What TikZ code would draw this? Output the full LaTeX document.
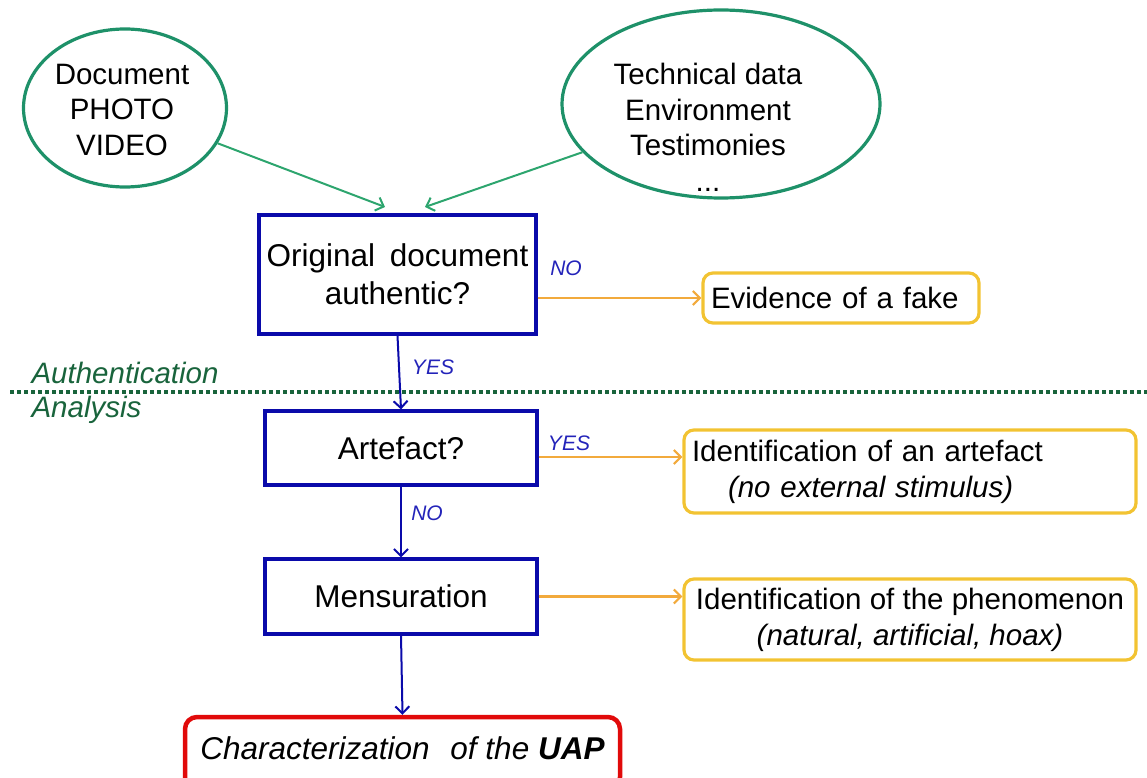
\documentclass[tikz,border=0pt]{standalone}
\usepackage{fontspec}
\setmainfont{Liberation Sans}
\usetikzlibrary{shapes.geometric,arrows.meta,calc}
\definecolor{elgreen}{RGB}{30,145,105}
\definecolor{argreen}{RGB}{45,165,110}
\definecolor{dkgreen}{RGB}{25,100,60}
\definecolor{bxblue}{RGB}{10,10,170}
\definecolor{lbblue}{RGB}{35,35,185}
\definecolor{orarrow}{RGB}{242,170,60}
\definecolor{ylbox}{RGB}{242,195,50}
\definecolor{rdbox}{RGB}{225,10,10}
\begin{document}
\begin{tikzpicture}[x=1pt,y=-1pt,
  src/.style={ellipse, draw=elgreen, line width=3.2pt, inner sep=0pt},
  txt/.style={align=center, font=\fontsize{29.5}{35.5}\selectfont},
  stepbox/.style={draw=bxblue, line width=3.2pt, inner sep=0pt, align=center, font=\fontsize{31.5}{38}\selectfont},
  outbox/.style={draw=ylbox, line width=3.2pt, rounded corners=10pt, inner sep=0pt, font=\fontsize{29.5}{36}\selectfont},
  lbl/.style={text=lbblue, font=\fontsize{21}{24}\selectfont\itshape},
  garrow/.style={draw=argreen, line width=2pt, -{Straight Barb[length=7pt,width=14pt]}},
  barrow/.style={draw=bxblue, line width=2pt, -{Straight Barb[length=7pt,width=14pt]}},
  oarrow/.style={draw=orarrow, line width=2.2pt, -{Straight Barb[length=7pt,width=14pt]}},
  zone/.style={text=dkgreen, anchor=west, font=\fontsize{29.5}{35}\selectfont\itshape}
]
\useasboundingbox (0,0) rectangle (1147,778);

% divider
\coordinate (dl) at (10,392);
\coordinate (dr) at (1147,392);
\draw[dkgreen, line width=4pt, dash pattern=on 3.5pt off 3.5pt] (dl) -- (dr);
\node[zone] (auth) at (28,373) {Authentication};
\node[zone] (anal) at (28,410) {Analysis};

% sources
\node[src, minimum width=203pt, minimum height=158pt] (ell1) at (125,108) {};
\node[txt] (t1) at (122,109.5) {Document\\PHOTO\\VIDEO};
\node[src, minimum width=318pt, minimum height=188pt] (ell2) at (721,104) {};
\node[txt] (t2) at (708,127.5) {Technical data\\Environment\\Testimonies\\...};

% steps
\node[stepbox, minimum width=277pt, minimum height=119pt] (b1) at (397.5,274.5) {Original\hspace{6pt} document\\authentic?};
\node[stepbox, minimum width=272pt, minimum height=74pt] (b2) at (401,448) {Artefact?};
\node[stepbox, minimum width=272pt, minimum height=75pt] (b3) at (401,596.5) {Mensuration};
\node[draw=rdbox, line width=4.5pt, rounded corners=12pt, minimum width=435pt, minimum height=72pt, inner sep=0pt, font=\fontsize{31.5}{38}\selectfont] (uap) at (402.5,753) {\raisebox{10pt}{\itshape Characterization\hspace{12pt} of the \textbf{UAP}}};

% outcomes
\node[outbox, text width=260pt, inner xsep=8pt, minimum height=50pt, align=left] (ev) at (841,298) {Evidence of a fake};
\node[outbox, text width=436pt, inner xsep=8pt, minimum height=83pt, align=left] (id1) at (910,471.5) {Identification of an artefact\\\hspace*{36pt}\textit{(no external stimulus)}};
\node[outbox, minimum width=452pt, minimum height=81pt, align=center] (id2) at (910,619.5) {Identification of the phenomenon\\\textit{(natural, artificial, hoax)}};

% connectors
\coordinate (in1) at (385,207);
\coordinate (in2) at (425,207);
\draw[garrow] (ell1) -- (in1);
\draw[garrow] (ell2) -- (in2);
\draw[barrow] (b1.south) -- (b2.north);
\draw[barrow] (b2.south) -- (b3.north);
\draw[barrow] (b3.south) -- (uap.north);
\draw[oarrow] (b1.east |- ev.west) -- (ev.west);
\draw[oarrow] ([yshift=-9pt]b2.east) -- ([yshift=-9pt]b2.east -| id1.west);
\draw[oarrow] (b3.east) -- (b3.east -| id2.west);

% labels
\node[lbl] (no1) at (566,268) {NO};
\node[lbl] (yes1) at (433,367) {YES};
\node[lbl] (yes2) at (569,443) {YES};
\node[lbl] (no2) at (427,513) {NO};
\end{tikzpicture}
\end{document}
